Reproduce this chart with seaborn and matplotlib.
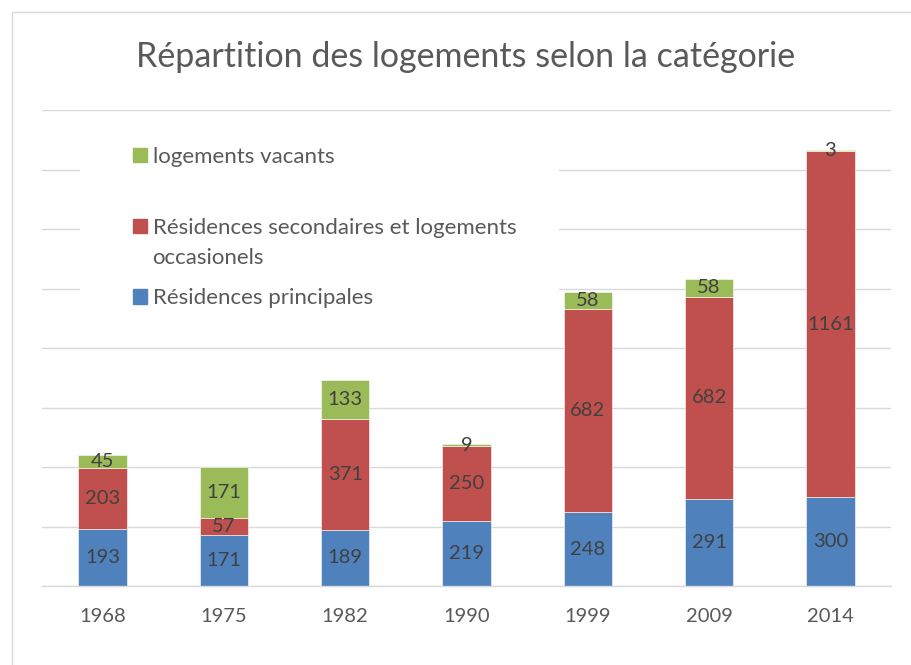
import numpy as np
import pandas as pd
import seaborn as sns
import matplotlib.pyplot as plt
from matplotlib.patches import Rectangle, Patch

# --- données ---
annees = ['1968', '1975', '1982', '1990', '1999', '2009', '2014']
principales = [193, 171, 189, 219, 248, 291, 300]
secondaires = [203, 57, 371, 250, 682, 682, 1161]
vacants = [45, 171, 133, 9, 58, 58, 3]

lab_princ = 'Résidences principales'
lab_sec = 'Résidences secondaires et logements'
lab_sec2 = 'occasionels'
lab_vac = 'logements vacants'

c_bleu = '#4F81BD'
c_rouge = '#C0504D'
c_vert = '#9BBB59'
gris_grid = '#D9D9D9'
gris_txt = '#595959'

sns.set_style('white')
plt.rcParams['font.family'] = ['Lato', 'DejaVu Sans']

W, H = 911, 665
fig = plt.figure(figsize=(W / 100, H / 100), dpi=100)
ax = fig.add_axes([42 / W, 1 - 586 / H, (891 - 42) / W, (586 - 110) / H])

df = pd.DataFrame({'annee': annees, 'princ': principales,
                   'sec': secondaires, 'vac': vacants})
bas_sec = df['princ'].values
bas_vac = (df['princ'] + df['sec']).values

kw = dict(width=0.4, saturation=1, edgecolor='white', linewidth=0.4, ax=ax)
sns.barplot(data=df, x='annee', y='princ', color=c_bleu, **kw)
sns.barplot(data=df, x='annee', y='sec', bottom=bas_sec, color=c_rouge, **kw)
sns.barplot(data=df, x='annee', y='vac', bottom=bas_vac, color=c_vert, **kw)

for cont in ax.containers:
    ax.bar_label(cont, label_type='center', fontsize=14.5, color='#404040')

ax.set_xlim(-0.5, 6.5)
ax.set_ylim(0, 1600)
ax.set_yticks(np.arange(0, 1601, 200))
ax.set_axisbelow(True)
ax.grid(axis='y', color=gris_grid, linewidth=1)
ax.grid(axis='x', visible=False)
ax.set_xlabel('')
ax.set_ylabel('')
ax.tick_params(axis='y', left=False, labelleft=False)
ax.tick_params(axis='x', length=0, pad=16, labelsize=14.5, labelcolor=gris_txt)
for s in ['left', 'right', 'top']:
    ax.spines[s].set_visible(False)
ax.spines['bottom'].set_color(gris_grid)
ax.spines['bottom'].set_linewidth(1)

# fond blanc de la légende (masque le quadrillage)
ax.add_patch(Rectangle((80 / W, 1 - 318 / H), (559 - 80) / W, (318 - 128) / H,
                       transform=fig.transFigure, facecolor='white',
                       edgecolor='none', zorder=0.8, clip_on=False))

handles = [Patch(color=c_vert), Patch(color=c_rouge), Patch(color=c_bleu)]
leg = ax.legend(handles, [lab_vac, lab_sec, lab_princ], loc='upper left',
                bbox_to_anchor=(133 / W, 1 - 147 / H), bbox_transform=fig.transFigure,
                frameon=False, borderpad=0, borderaxespad=0, fontsize=16,
                labelcolor=gris_txt, handlelength=0.63, handleheight=0.63,
                handletextpad=0.25, labelspacing=2.28)
ax.annotate(lab_sec2, xy=(0, 0), xycoords=leg.get_texts()[1],
            xytext=(0, -30), textcoords='offset pixels', va='bottom', ha='left',
            fontsize=16, color=gris_txt, annotation_clip=False, zorder=6)

# titre et cadre du graphique
fig.text(466 / W, 1 - 57 / H, 'Répartition des logements selon la catégorie',
         ha='center', va='center', fontsize=24.5, color=gris_txt)
fig.add_artist(Rectangle((12 / W, -0.1), 1.2, 1.1 - 12 / H, transform=fig.transFigure,
                         fill=False, edgecolor=gris_grid, linewidth=1))

fig.savefig('out.png', dpi=100)
